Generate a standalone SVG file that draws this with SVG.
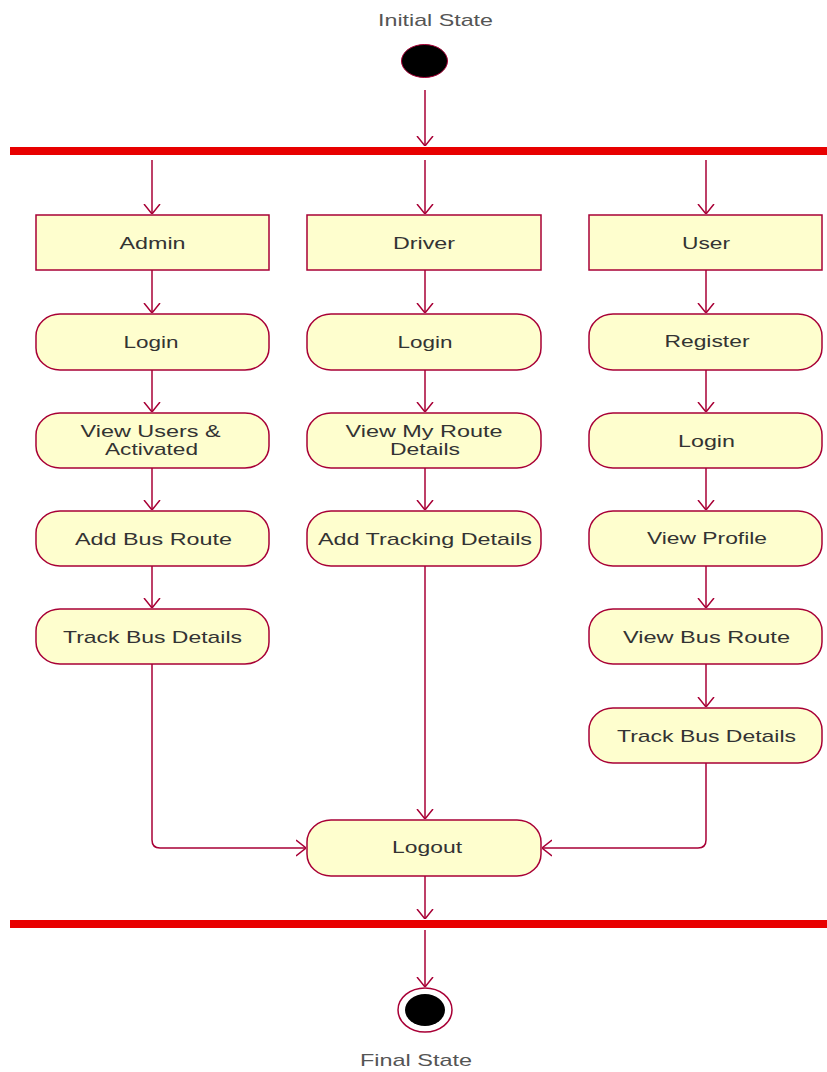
<svg xmlns="http://www.w3.org/2000/svg" width="827" height="1072" viewBox="0 0 827 1072">
<style>
text{font-family:"Liberation Sans",Arial,sans-serif;font-size:17px;fill:#333;text-anchor:middle}
.lbl{fill:#555}
.box{fill:#FEFECE;stroke:#A80036;stroke-width:1.5}
.bar{fill:#E80000}
.c{fill:none;stroke:#A80036;stroke-width:1.5;marker-end:url(#arr)}
</style>
<defs>
<marker id="arr" viewBox="0 0 10 18" refX="10" refY="9" markerWidth="10" markerHeight="18" markerUnits="userSpaceOnUse" orient="auto">
<path d="M0,1 L10,9 L0,17" fill="none" stroke="#A80036" stroke-width="1.5"/>
</marker>
</defs>
<rect width="827" height="1072" fill="#fff"/>
<g id="initial">
<text class="lbl" x="435.5" y="26" textLength="115" lengthAdjust="spacingAndGlyphs">Initial State</text>
<ellipse cx="424.5" cy="61" rx="23" ry="16.5" fill="#000" stroke="#A80036" stroke-width="1"/>
</g>
<g id="fork"><rect class="bar" x="10" y="147" width="817" height="8"/></g>
<g id="join"><rect class="bar" x="10" y="920" width="817" height="8"/></g>
<g id="admin"><rect class="box" x="36" y="215" width="233" height="55"/><text x="152.5" y="249" textLength="66" lengthAdjust="spacingAndGlyphs">Admin</text></g>
<g id="driver"><rect class="box" x="307" y="215" width="234" height="55"/><text x="424" y="249" textLength="62" lengthAdjust="spacingAndGlyphs">Driver</text></g>
<g id="user"><rect class="box" x="589" y="215" width="233" height="55"/><text x="706" y="249" textLength="48" lengthAdjust="spacingAndGlyphs">User</text></g>
<g id="admin-login"><rect class="box" x="36" y="314" width="233" height="56" rx="24" ry="22"/><text x="151" y="348" textLength="55" lengthAdjust="spacingAndGlyphs">Login</text></g>
<g id="driver-login"><rect class="box" x="307" y="314" width="234" height="56" rx="24" ry="22"/><text x="425" y="348" textLength="55" lengthAdjust="spacingAndGlyphs">Login</text></g>
<g id="register"><rect class="box" x="589" y="314" width="233" height="56" rx="24" ry="22"/><text x="707" y="347" textLength="85" lengthAdjust="spacingAndGlyphs">Register</text></g>
<g id="view-users"><rect class="box" x="36" y="413" width="233" height="55" rx="24" ry="22"/><text x="150.5" y="437" textLength="140" lengthAdjust="spacingAndGlyphs">View Users &amp;</text><text x="151.5" y="455" textLength="93" lengthAdjust="spacingAndGlyphs">Activated</text></g>
<g id="view-route"><rect class="box" x="307" y="413" width="234" height="55" rx="24" ry="22"/><text x="424" y="437" textLength="157" lengthAdjust="spacingAndGlyphs">View My Route</text><text x="425" y="455" textLength="70" lengthAdjust="spacingAndGlyphs">Details</text></g>
<g id="user-login"><rect class="box" x="589" y="413" width="233" height="55" rx="24" ry="22"/><text x="706.5" y="447" textLength="57" lengthAdjust="spacingAndGlyphs">Login</text></g>
<g id="add-bus-route"><rect class="box" x="36" y="511" width="233" height="55" rx="24" ry="22"/><text x="153.5" y="545" textLength="157" lengthAdjust="spacingAndGlyphs">Add Bus Route</text></g>
<g id="add-tracking"><rect class="box" x="307" y="511" width="234" height="55" rx="24" ry="22"/><text x="425" y="545" textLength="214" lengthAdjust="spacingAndGlyphs">Add Tracking Details</text></g>
<g id="view-profile"><rect class="box" x="589" y="511" width="233" height="55" rx="24" ry="22"/><text x="707" y="544" textLength="120" lengthAdjust="spacingAndGlyphs">View Profile</text></g>
<g id="admin-track"><rect class="box" x="36" y="609" width="233" height="55" rx="24" ry="22"/><text x="152.5" y="643" textLength="179" lengthAdjust="spacingAndGlyphs">Track Bus Details</text></g>
<g id="view-bus-route"><rect class="box" x="589" y="609" width="233" height="55" rx="24" ry="22"/><text x="706.5" y="643" textLength="167" lengthAdjust="spacingAndGlyphs">View Bus Route</text></g>
<g id="user-track"><rect class="box" x="589" y="708" width="233" height="55" rx="24" ry="22"/><text x="706.5" y="742" textLength="179" lengthAdjust="spacingAndGlyphs">Track Bus Details</text></g>
<g id="logout"><rect class="box" x="307" y="820" width="234" height="56" rx="24" ry="22"/><text x="427" y="853" textLength="70" lengthAdjust="spacingAndGlyphs">Logout</text></g>
<g id="final">
<ellipse cx="425" cy="1010" rx="27" ry="22" fill="#fff" stroke="#A80036" stroke-width="1.5"/>
<ellipse cx="425" cy="1010" rx="20" ry="16" fill="#000"/>
<text class="lbl" x="416" y="1066" textLength="112" lengthAdjust="spacingAndGlyphs">Final State</text>
</g>
<g id="connectors">
<path class="c" d="M425,90 V146"/>
<path class="c" d="M152,160 V214"/>
<path class="c" d="M425,160 V214"/>
<path class="c" d="M706,160 V214"/>
<path class="c" d="M152,270 V313"/>
<path class="c" d="M425,270 V313"/>
<path class="c" d="M706,270 V313"/>
<path class="c" d="M152,370 V412"/>
<path class="c" d="M425,370 V412"/>
<path class="c" d="M706,370 V412"/>
<path class="c" d="M152,468 V510"/>
<path class="c" d="M425,468 V510"/>
<path class="c" d="M706,468 V510"/>
<path class="c" d="M152,566 V608"/>
<path class="c" d="M706,566 V608"/>
<path class="c" d="M706,664 V707"/>
<path class="c" d="M425,566 V819"/>
<path class="c" d="M152,664 V840 Q152,848 160,848 H306"/>
<path class="c" d="M706,763 V840 Q706,848 698,848 H542"/>
<path class="c" d="M425,876 V919"/>
<path class="c" d="M425,930 V987"/>
</g>
</svg>
